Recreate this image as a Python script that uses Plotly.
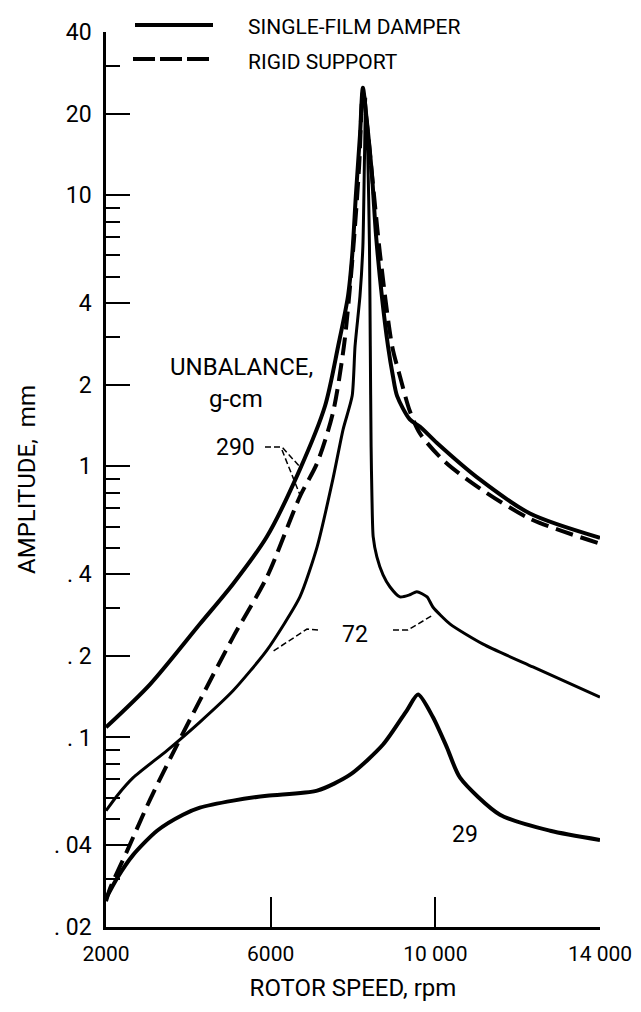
import math
import plotly.graph_objects as go

# ---------------- data ----------------
# Single-film damper, unbalance 290 g-cm
rpm_290 = [2000, 3070, 4280, 5090, 5910, 6710, 7320, 7640, 7880, 7980, 8070, 8170, 8240,
           8320, 8460, 8560, 8700, 8850, 8970, 9070, 9380, 9630, 10040, 11080, 12300, 14000]
amp_290 = [0.109, 0.157, 0.262, 0.369, 0.551, 0.975, 1.67, 2.78, 4.26, 6.0, 10.0, 16.7, 24.9,
           19.8, 11.9, 7.1, 4.26, 2.78, 2.15, 1.82, 1.49, 1.40, 1.22, 0.895, 0.670, 0.545]

# Rigid support
rpm_rigid = [2000, 2100, 2510, 3070, 3730, 4280, 5090, 5910, 6710, 7130, 7510, 7780, 7930,
             8050, 8150, 8240, 8340, 8510, 8660, 8950, 9140, 9380, 9630, 10230, 11080, 12300, 14000]
amp_rigid = [0.0249, 0.0278, 0.0381, 0.059, 0.0942, 0.137, 0.235, 0.391, 0.774, 1.03, 1.57, 2.78, 4.64,
             7.74, 12.9, 24.0, 18.2, 10.0, 6.0, 2.78, 2.15, 1.60, 1.32, 1.04, 0.830, 0.641, 0.519]

# Single-film damper, unbalance 72 g-cm
rpm_72 = [2000, 2270, 2660, 3480, 4280, 5090, 5910, 6710, 7130, 7510, 7760, 7980, 8050, 8170, 8240,
          8280, 8310, 8360, 8400, 8420, 8440, 8460, 8490, 8580, 8730, 8900, 9140, 9380, 9550,
          9800, 9940, 10360, 11160, 12370, 14000]
amp_72 = [0.0537, 0.061, 0.0711, 0.0895, 0.114, 0.149, 0.210, 0.330, 0.506, 0.895, 1.37, 1.82, 2.78, 4.26, 6.5,
          14.0, 23.0, 14.0, 6.5, 2.78, 1.18, 0.774, 0.551, 0.464, 0.398, 0.359, 0.330, 0.336, 0.345,
          0.330, 0.303, 0.262, 0.221, 0.182, 0.141]

# Single-film damper, unbalance 29 g-cm
rpm_29 = [2000, 2270, 2660, 3240, 3870, 4280, 5090, 5910, 7130, 7930, 8730, 9310, 9580,
          9940, 10280, 10600, 11570, 12790, 14000]
amp_29 = [0.0255, 0.0303, 0.0369, 0.0453, 0.0519, 0.0551, 0.0585, 0.0610, 0.0637, 0.0729, 0.0942, 0.126, 0.144,
          0.119, 0.092, 0.0711, 0.0519, 0.0453, 0.0419]

# axis ticks
x_ticks = [2000, 6000, 10000, 14000]
x_ticktext = ["2000", "6000", "10 000", "14 000"]
y_ticks = [0.02, 0.04, 0.1, 0.2, 0.4, 1, 2, 4, 10, 20, 40]
y_ticktext = [". 02", ". 04", ". 1", ". 2", ". 4", "1", "2", "4", "10", "20", "40"]
y_minor = [0.03, 0.05, 0.06, 0.07, 0.08, 0.09, 0.3, 0.5, 0.6, 0.7, 0.8, 0.9,
           3, 5, 6, 7, 8, 9, 30]
y_decades = [0.1, 1, 10]

FONT = "Roboto, Liberation Sans, Arial, sans-serif"

fig = go.Figure()
fig.add_trace(go.Scatter(x=rpm_290, y=amp_290, mode="lines", name="SINGLE-FILM DAMPER",
                         line=dict(color="black", width=4, shape="spline", smoothing=0.8),
                         showlegend=False))
fig.add_trace(go.Scatter(x=rpm_rigid, y=amp_rigid, mode="lines", name="RIGID SUPPORT",
                         line=dict(color="black", width=4, dash="18px,8px", shape="spline", smoothing=0.8),
                         showlegend=False))
fig.add_trace(go.Scatter(x=rpm_72, y=amp_72, mode="lines", name="72 g-cm",
                         line=dict(color="black", width=3, shape="spline", smoothing=0.6),
                         showlegend=False))
fig.add_trace(go.Scatter(x=rpm_29, y=amp_29, mode="lines", name="29 g-cm",
                         line=dict(color="black", width=4, shape="spline", smoothing=0.7),
                         showlegend=False))

# page body has an 8px default margin: screen coords = figure coords + 8
OFF = 8
W, H = 625, 996
PL, PR, PT, PB = 106, 600, 32, 927   # plot area in screen pixels
L, T = PL - OFF, PT - OFF
R = W - (PR - OFF)
B = H - (PB - OFF)
pw, ph = PR - PL, PB - PT


def px(x):
    return (x - PL) / pw


def py(y):
    return (PB - y) / ph


yrange = [math.log10(0.02), math.log10(40)]

fig.update_layout(
    width=W, height=H,
    margin=dict(l=L, r=R, t=T, b=B, autoexpand=False),
    paper_bgcolor="white", plot_bgcolor="white",
    font=dict(family=FONT, color="black", size=23),
    xaxis=dict(range=[2000, 14000], showgrid=False, zeroline=False,
               showline=True, linecolor="black", linewidth=2.5,
               ticks="inside", ticklen=30, tickwidth=2, tickcolor="black",
               tickvals=x_ticks, ticktext=x_ticktext, tickfont=dict(size=21),
               ticklabelstandoff=6,
               title=dict(text="ROTOR SPEED, rpm", font=dict(size=24), standoff=15)),
    yaxis=dict(type="log", range=yrange, showgrid=False, zeroline=False,
               showline=True, linecolor="black", linewidth=2.5,
               ticks="inside", ticklen=24, tickwidth=2, tickcolor="black",
               tickvals=y_ticks, ticktext=y_ticktext, tickfont=dict(size=23),
               ticklabelstandoff=7,
               minor=dict(tickvals=y_minor, ticks="inside", ticklen=14, tickwidth=2, tickcolor="black",
                          showgrid=False),
               title=dict(text="AMPLITUDE,  mm", font=dict(size=24), standoff=12)),
    yaxis2=dict(type="log", range=yrange, overlaying="y", anchor="x", side="left",
                showgrid=False, zeroline=False, showline=False,
                ticks="inside", ticklen=34, tickwidth=2, tickcolor="black",
                tickvals=y_decades, showticklabels=False),
)

# manual legend keys
shapes = []
shapes.append(dict(type="line", xref="paper", yref="paper", x0=px(135), x1=px(213), y0=py(25), y1=py(25),
                   line=dict(color="black", width=4)))
shapes.append(dict(type="line", xref="paper", yref="paper", x0=px(133), x1=px(212), y0=py(59), y1=py(59),
                   line=dict(color="black", width=4, dash="22px,5px")))


# leader lines for the curve labels
def path(pts):
    s = "M %f %f" % (px(pts[0][0]), py(pts[0][1]))
    for p in pts[1:]:
        s += " L %f %f" % (px(p[0]), py(p[1]))
    return s


for pts in [[(265, 447), (282, 447), (300, 467)], [(282, 450), (302, 500)],
            [(318, 630), (307, 629), (272, 652)], [(393, 630), (408, 630), (433, 615)]]:
    shapes.append(dict(type="path", xref="paper", yref="paper", path=path(pts),
                       line=dict(color="black", width=1.5, dash="6px,3px")))
fig.update_layout(shapes=shapes)

ann = [
    dict(text="SINGLE-FILM DAMPER", x=px(246), y=py(27), xanchor="left", size=21),
    dict(text="RIGID SUPPORT", x=px(246), y=py(62), xanchor="left", size=21),
    dict(text="UNBALANCE,", x=px(241), y=py(367), xanchor="center", size=24),
    dict(text="g-cm", x=px(236), y=py(399), xanchor="center", size=24),
    dict(text="290", x=px(235), y=py(448), xanchor="center", size=23),
    dict(text="72", x=px(355), y=py(634), xanchor="center", size=23),
    dict(text="29", x=px(465), y=py(834), xanchor="center", size=23),
]
for a in ann:
    fig.add_annotation(text=a["text"], x=a["x"], y=a["y"], xref="paper", yref="paper",
                       xanchor=a["xanchor"], yanchor="middle", showarrow=False,
                       font=dict(family=FONT, size=a["size"], color="black"))

fig.write_html("out.html")
